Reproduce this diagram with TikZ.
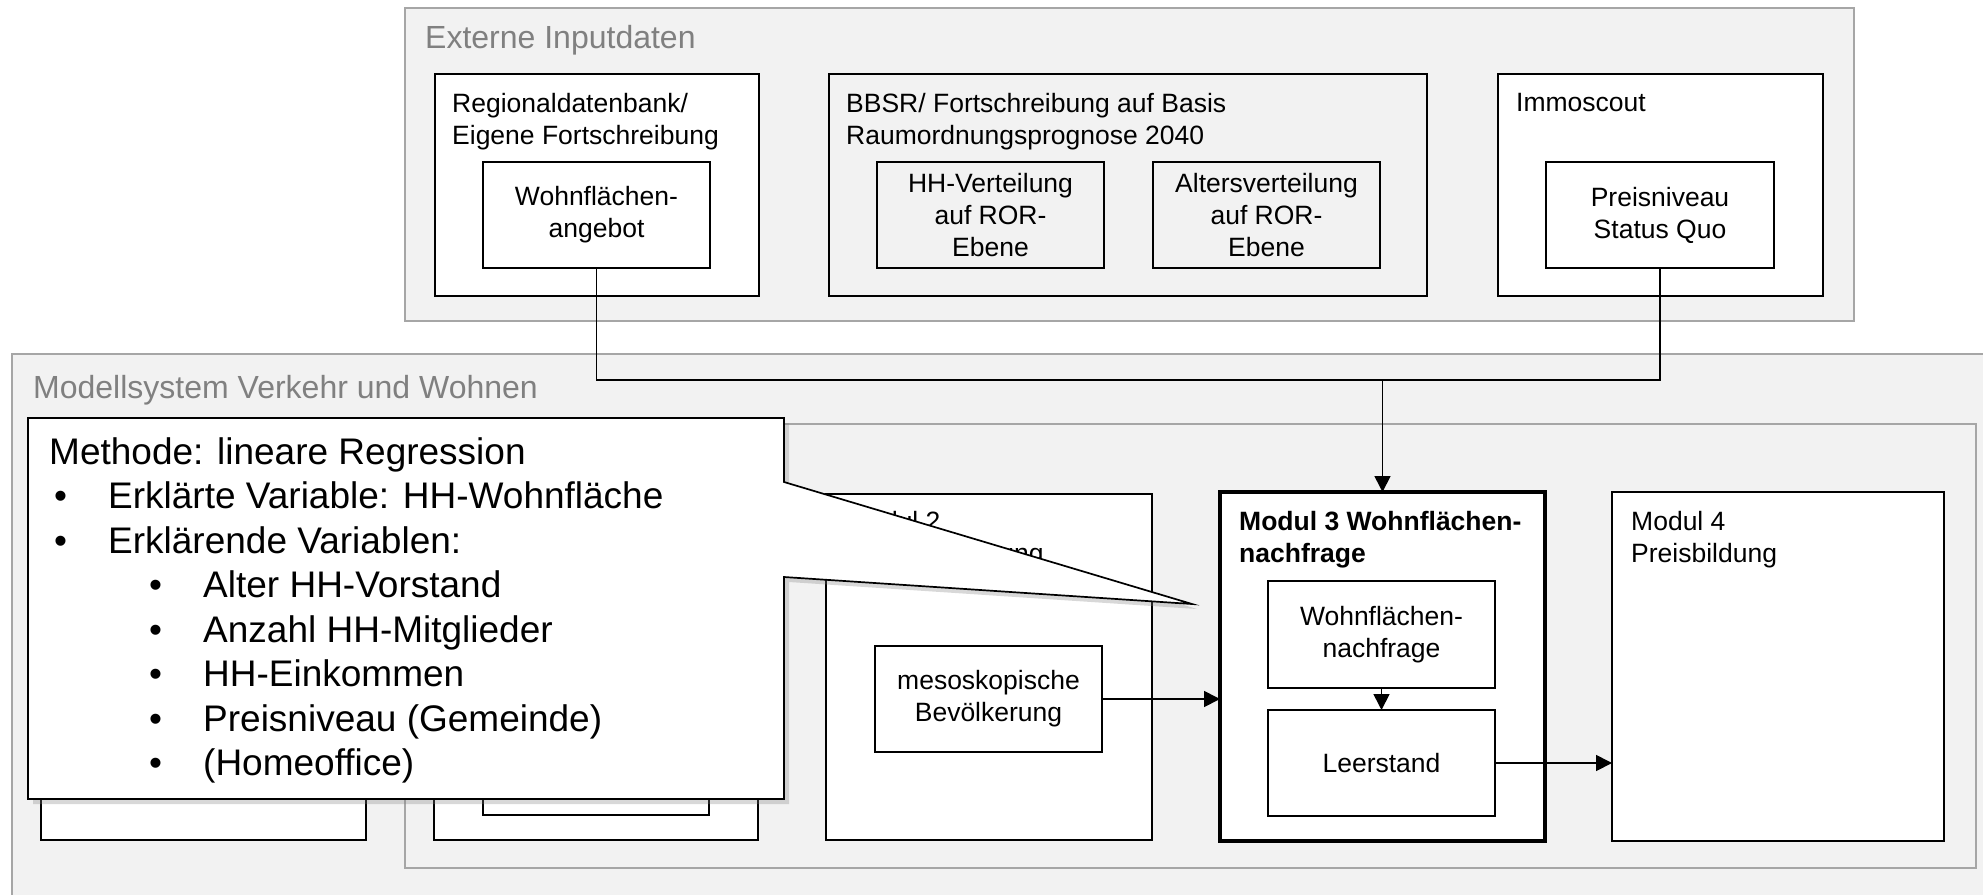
\documentclass[tikz,border=0pt]{standalone}
\usepackage{fontspec}
\setmainfont{Liberation Sans}
\usetikzlibrary{arrows.meta,shadows}
\definecolor{panelgray}{RGB}{242,242,242}
\definecolor{framegray}{RGB}{166,166,166}
\definecolor{titlegray}{RGB}{128,128,128}
\newcommand\boxfont{\fontsize{26.5}{32}\selectfont}
\newcommand\notefont{\fontsize{37}{44.5}\selectfont}
\newcommand\titlefont{\fontsize{32}{38}\selectfont}
\tikzset{
  panel/.style={draw=framegray, fill=panelgray, line width=1.2pt, anchor=north west, inner sep=0pt, outer sep=0pt},
  paneltitle/.style={anchor=base west, inner sep=0pt, text=titlegray, font=\titlefont},
  srcbox/.style={draw=black, fill=white, line width=1.5pt, anchor=north west, inner sep=0pt, outer sep=0pt, align=center, font=\boxfont},
  graybox/.style={srcbox, fill=panelgray},
  modbox/.style={srcbox},
  headtext/.style={anchor=base west, inner sep=0pt, align=left, font=\boxfont},
  notetext/.style={anchor=base west, inner sep=0pt, font=\notefont},
  link/.style={draw=black, line width=1.7pt},
  flow/.style={link, -{Triangle[length=16pt,width=16pt]}},
}

\begin{document}
\begin{tikzpicture}[x=1pt,y=-1pt]
\useasboundingbox (0,0) rectangle (1983,894);
\fill[white] (0,0) rectangle (1983,894);
% Drawing panels
\node[panel, minimum width=1449pt, minimum height=313pt] (extpanel) at (405,8) {};
\node[paneltitle] (exttitle) at (425,48) {Externe Inputdaten};
\node[panel, minimum width=1990pt, minimum height=570pt] (modelpanel) at (12,354) {};
\node[paneltitle] (modeltitle) at (33,398) {Modellsystem Verkehr und Wohnen};
\node[panel, minimum width=1571pt, minimum height=444pt] (modpanel) at (405,424) {};
% Drawing input boxes (text nodes sit on the baseline of their last line)
\node[srcbox, minimum width=324pt, minimum height=222pt] (rdb) at (435,74) {};
\node[headtext] (rdbtext) at (452,144) {Regionaldatenbank/\\Eigene Fortschreibung};
\node[srcbox, minimum width=227pt, minimum height=106pt] (wfa) at (483,162) {Wohnflächen-\\angebot};
\node[graybox, minimum width=598pt, minimum height=222pt] (bbsr) at (829,74) {};
\node[headtext] (bbsrtext) at (846,144) {BBSR/ Fortschreibung auf Basis\\Raumordnungsprognose 2040};
\node[graybox, minimum width=227pt, minimum height=106pt] (hhv) at (877,162) {HH-Verteilung\\auf ROR-\\Ebene};
\node[graybox, minimum width=227pt, minimum height=106pt] (alv) at (1153,162) {Altersverteilung\\auf ROR-\\Ebene};
\node[srcbox, minimum width=325pt, minimum height=222pt] (immo) at (1498,74) {};
\node[headtext] (immotext) at (1516,111) {Immoscout};
\node[srcbox, minimum width=228pt, minimum height=106pt] (pn) at (1546,162) {Preisniveau\\Status Quo};
% Drawing modules
\node[modbox, minimum width=325pt, minimum height=348pt] (mod0) at (41,492) {};
\node[modbox, minimum width=324pt, minimum height=348pt] (mod1) at (434,492) {};
\node[modbox, minimum width=226pt, minimum height=105pt] (mod1in) at (483,710) {};
\node[modbox, minimum width=326pt, minimum height=346pt] (mod2) at (826,494) {};
\node[headtext] (mod2text) at (846,562) {Modul 2\\Regionalisierung};
\node[modbox, minimum width=227pt, minimum height=106pt] (meso) at (875,646) {mesoskopische\\Bevölkerung};
\node[modbox, line width=4.2pt, minimum width=325pt, minimum height=349pt] (mod3) at (1220,492) {};
\node[headtext, font=\boxfont\bfseries] (mod3text) at (1239,562) {Modul 3 Wohnflächen-\\nachfrage};
\node[modbox, minimum width=227pt, minimum height=107pt] (wfn) at (1268,581) {Wohnflächen-\\nachfrage};
\node[modbox, minimum width=227pt, minimum height=106pt] (leer) at (1268,710) {Leerstand};
\node[modbox, minimum width=332pt, minimum height=349pt] (mod4) at (1612,492) {};
\node[headtext] (mod4text) at (1631,562) {Modul 4\\Preisbildung};
% Done with boxes; drawing connectors
\coordinate (split) at (1382.5,380);
\draw[link] (wfa.south) |- (split) -| (pn.south);
\draw[flow] (split) -- (mod3.north);
\draw[flow] (meso.east) -- (meso.east -| mod3.west);
\draw[flow] (wfn.south) -- (leer.north);
\draw[flow] (leer.east) -- (leer.east -| mod4.west);
% Drawing callout
\draw[link, fill=white, drop shadow={opacity=0.3, shadow xshift=5pt, shadow yshift=-5pt}]
  (28,418) -- (784,418) -- (784,482) -- (1192,604) -- (784,577) -- (784,799) -- (28,799) -- cycle;
\node[notetext] (method) at (49,464) {Methode: lineare Regression};
\foreach \dx/\txt [count=\i] in {108/Erklärte Variable: HH-Wohnfläche, 108/Erklärende Variablen:,
  203/Alter HH-Vorstand, 203/Anzahl HH-Mitglieder, 203/HH-Einkommen,
  203/Preisniveau (Gemeinde), 203/(Homeoffice)}
  \node[notetext] (item\i) at (\dx,464+44.5*\i) {\llap{\makebox[54pt][l]{•}}\txt};
% Done with callout
\end{tikzpicture}
\end{document}
